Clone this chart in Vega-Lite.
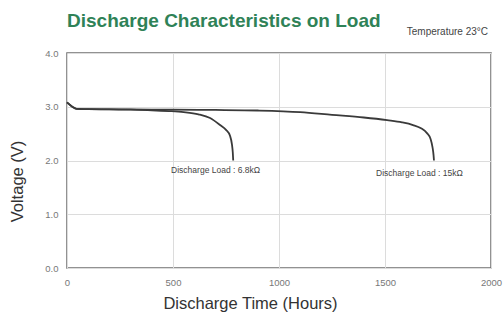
{
  "$schema": "https://vega.github.io/schema/vega-lite/v6.json",
  "width": 424,
  "height": 215,
  "autosize": {"type": "none"},
  "padding": {"left": 67, "top": 53, "right": 13, "bottom": 44},
  "background": "white",
  "config": {
    "view": {"stroke": "#6f6f6f", "strokeWidth": 1.5},
    "font": "Liberation Sans"
  },
  "title": {
    "text": "Discharge Characteristics on Load",
    "anchor": "start",
    "frame": "group",
    "font": "Liberation Sans",
    "fontSize": 19,
    "fontWeight": "bold",
    "color": "#2f8257",
    "baseline": "alphabetic",
    "offset": -19
  },
  "datasets": {
    "curves": [
      {"hours": 0, "voltage": 3.08, "load": "6.8k"},
      {"hours": 25, "voltage": 3.0, "load": "6.8k"},
      {"hours": 45, "voltage": 2.96, "load": "6.8k"},
      {"hours": 100, "voltage": 2.955, "load": "6.8k"},
      {"hours": 200, "voltage": 2.95, "load": "6.8k"},
      {"hours": 300, "voltage": 2.945, "load": "6.8k"},
      {"hours": 400, "voltage": 2.935, "load": "6.8k"},
      {"hours": 480, "voltage": 2.92, "load": "6.8k"},
      {"hours": 550, "voltage": 2.9, "load": "6.8k"},
      {"hours": 620, "voltage": 2.86, "load": "6.8k"},
      {"hours": 675, "voltage": 2.79, "load": "6.8k"},
      {"hours": 722, "voltage": 2.66, "load": "6.8k"},
      {"hours": 750, "voltage": 2.57, "load": "6.8k"},
      {"hours": 769, "voltage": 2.46, "load": "6.8k"},
      {"hours": 778, "voltage": 2.3, "load": "6.8k"},
      {"hours": 782, "voltage": 2.15, "load": "6.8k"},
      {"hours": 784, "voltage": 2.0, "load": "6.8k"},
      {"hours": 0, "voltage": 3.08, "load": "15k"},
      {"hours": 25, "voltage": 3.0, "load": "15k"},
      {"hours": 45, "voltage": 2.96, "load": "15k"},
      {"hours": 100, "voltage": 2.955, "load": "15k"},
      {"hours": 300, "voltage": 2.95, "load": "15k"},
      {"hours": 500, "voltage": 2.945, "load": "15k"},
      {"hours": 700, "voltage": 2.94, "load": "15k"},
      {"hours": 900, "voltage": 2.93, "load": "15k"},
      {"hours": 1100, "voltage": 2.9, "load": "15k"},
      {"hours": 1250, "voltage": 2.85, "load": "15k"},
      {"hours": 1400, "voltage": 2.8, "load": "15k"},
      {"hours": 1510, "voltage": 2.75, "load": "15k"},
      {"hours": 1580, "voltage": 2.71, "load": "15k"},
      {"hours": 1632, "voltage": 2.66, "load": "15k"},
      {"hours": 1670, "voltage": 2.6, "load": "15k"},
      {"hours": 1698, "voltage": 2.51, "load": "15k"},
      {"hours": 1715, "voltage": 2.4, "load": "15k"},
      {"hours": 1724, "voltage": 2.25, "load": "15k"},
      {"hours": 1729, "voltage": 2.1, "load": "15k"},
      {"hours": 1731, "voltage": 2.0, "load": "15k"}
    ],
    "labels": [
      {"hours": 491, "voltage": 1.82, "text": "Discharge Load  :  6.8kΩ"},
      {"hours": 1458, "voltage": 1.77, "text": "Discharge Load  :  15kΩ"}
    ],
    "temp": [
      {"hours": 2000, "voltage": 4.0, "text": "Temperature 23°C"}
    ]
  },
  "layer": [
    {
      "data": {"name": "curves"},
      "mark": {"type": "line", "color": "#3a3a3a", "strokeWidth": 1.8, "interpolate": "monotone"},
      "encoding": {
        "x": {
          "field": "hours", "type": "quantitative",
          "scale": {"domain": [0, 2000], "nice": false},
          "axis": {
            "values": [0, 500, 1000, 1500, 2000],
            "format": "d",
            "title": "Discharge Time (Hours)",
            "titleFont": "Liberation Sans",
            "titleFontSize": 16.5,
            "titleFontWeight": "normal",
            "titleColor": "#333",
            "titleX": 183,
            "titleAlign": "center",
            "titlePadding": 9,
            "domain": false,
            "ticks": false,
            "labelFontSize": 9.5,
            "labelColor": "#777",
            "labelPadding": 9,
            "labelFlush": false,
            "gridColor": "#dcdcdc",
            "gridWidth": 1
          }
        },
        "y": {
          "field": "voltage", "type": "quantitative",
          "scale": {"domain": [0, 4], "nice": false},
          "axis": {
            "values": [0, 1, 2, 3, 4],
            "format": ".1f",
            "title": "Voltage (V)",
            "titleFont": "Liberation Sans",
            "titleFontSize": 16.5,
            "titleFontWeight": "normal",
            "titleColor": "#333",
            "titlePadding": 19,
            "titleY": 128,
            "titleAlign": "center",
            "domain": false,
            "ticks": false,
            "labelFontSize": 9.5,
            "labelColor": "#777",
            "labelPadding": 9,
            "gridColor": "#dcdcdc",
            "gridWidth": 1
          }
        },
        "detail": {"field": "load", "type": "nominal"}
      }
    },
    {
      "data": {"name": "labels"},
      "mark": {"type": "text", "align": "left", "baseline": "middle", "fontSize": 8.5, "color": "#444"},
      "encoding": {
        "x": {"field": "hours", "type": "quantitative"},
        "y": {"field": "voltage", "type": "quantitative"},
        "text": {"field": "text"}
      }
    },
    {
      "data": {"name": "temp"},
      "mark": {"type": "text", "align": "right", "baseline": "alphabetic", "fontSize": 10, "color": "#444", "dy": -18, "dx": -3},
      "encoding": {
        "x": {"field": "hours", "type": "quantitative"},
        "y": {"field": "voltage", "type": "quantitative"},
        "text": {"field": "text"}
      }
    }
  ]
}
